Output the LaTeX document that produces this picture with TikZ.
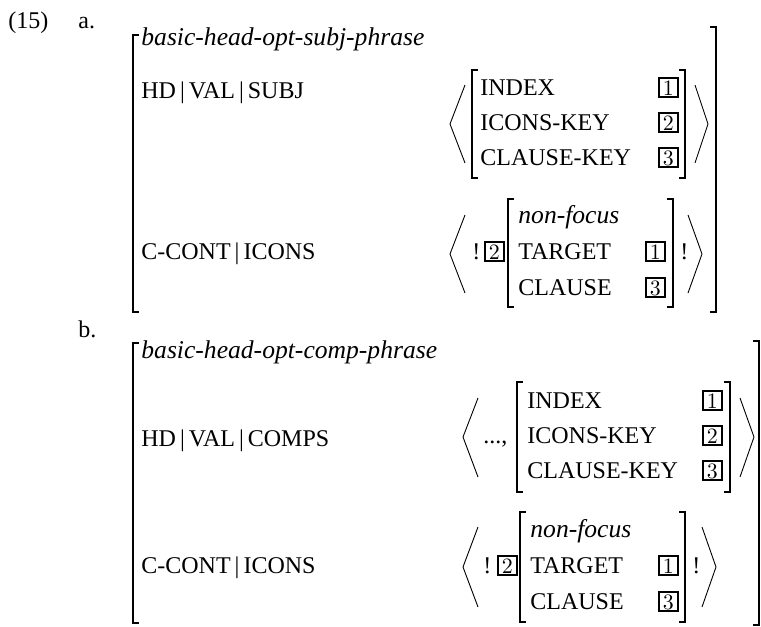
\documentclass[tikz,border=0pt]{standalone}
\usepackage[no-math]{fontspec}
\setmainfont{Liberation Serif}
\usepackage{tikz}

\begin{document}
\begin{tikzpicture}[x=0.5pt,y=-0.5pt,font=\fontsize{12}{14}\selectfont,
  txt/.style={anchor=base west,inner sep=0pt},
  typ/.style={txt,font=\fontsize{12.8}{14}\selectfont\itshape},
  tagbox/.style={draw,line width=1pt,inner sep=0pt,minimum width=9.3pt,minimum height=9.5pt,anchor=base west,font=\fontsize{10.5}{11}\selectfont},
  brk/.style={line width=0.7pt},
  ang/.style={line width=0.45pt}]
\useasboundingbox (0,0) rectangle (761,627);
\node[txt] (exnum) at (8,28) {(15)};
\node[txt] (lbla) at (78,28) {a.};
\draw[brk] (139,35) -- (133,35) -- (133,312) -- (139,312);
\draw[brk] (710,27) -- (716,27) -- (716,312) -- (710,312);
\node[typ] (a-type) at (141,45) {basic-head-opt-subj-phrase};
\node[txt] (a-path1) at (141,98) {HD\,|\,VAL\,|\,SUBJ};
\draw[ang] (465,85) -- (450,124) -- (465,163);
\draw[brk] (478,70) -- (472,70) -- (472,178) -- (478,178);
\node[txt] (a-idx) at (480,95) {INDEX};
\node[txt] (a-ikey) at (480,130) {ICONS-KEY};
\node[txt] (a-ckey) at (480,165) {CLAUSE-KEY};
\node[tagbox] (a-i1) at (658,95) {$1$};
\node[tagbox] (a-i2) at (658,130) {$2$};
\node[tagbox] (a-i3) at (658,165) {$3$};
\draw[brk] (679,70) -- (685,70) -- (685,178) -- (679,178);
\draw[ang] (695,85) -- (708,124) -- (695,163);
\node[txt] (a-path2) at (141,259) {C-CONT\,|\,ICONS};
\draw[ang] (465,215) -- (450,254) -- (465,293);
\node[txt] (a-bang1) at (472,259) {!};
\node[tagbox] (a-t2) at (484,259) {$2$};
\draw[brk] (514,199) -- (508,199) -- (508,307) -- (514,307);
\node[typ] (a-nf) at (518,223) {non-focus};
\node[txt] (a-tgt) at (518,259) {TARGET};
\node[txt] (a-cl) at (518,295) {CLAUSE};
\node[tagbox] (a-t1) at (645,259) {$1$};
\node[tagbox] (a-t3) at (645,295) {$3$};
\draw[brk] (667,199) -- (673,199) -- (673,307) -- (667,307);
\node[txt] (a-bang2) at (680,259) {!};
\draw[ang] (688,215) -- (702,254) -- (688,293);
\node[txt] (lblb) at (78,337) {b.};
\draw[brk] (139,343) -- (133,343) -- (133,623) -- (139,623);
\draw[brk] (753,341) -- (759,341) -- (759,625) -- (753,625);
\node[typ] (b-type) at (141,358) {basic-head-opt-comp-phrase};
\node[txt] (b-path1) at (141,446) {HD\,|\,VAL\,|\,COMPS};
\draw[ang] (478,398) -- (463,437) -- (478,477);
\node[txt] (b-dots) at (483,443) {...,};
\draw[brk] (523,382) -- (517,382) -- (517,492) -- (523,492);
\node[txt] (b-idx) at (527,408) {INDEX};
\node[txt] (b-ikey) at (527,443) {ICONS-KEY};
\node[txt] (b-ckey) at (527,478) {CLAUSE-KEY};
\node[tagbox] (b-i1) at (702,408) {$1$};
\node[tagbox] (b-i2) at (702,443) {$2$};
\node[tagbox] (b-i3) at (702,478) {$3$};
\draw[brk] (724,382) -- (730,382) -- (730,492) -- (724,492);
\draw[ang] (740,398) -- (754,437) -- (740,477);
\node[txt] (b-path2) at (141,573) {C-CONT\,|\,ICONS};
\draw[ang] (478,527) -- (463,567) -- (478,607);
\node[txt] (b-bang1) at (483,573) {!};
\node[tagbox] (b-t2) at (497,573) {$2$};
\draw[brk] (526,512) -- (520,512) -- (520,622) -- (526,622);
\node[typ] (b-nf) at (530,537) {non-focus};
\node[txt] (b-tgt) at (530,573) {TARGET};
\node[txt] (b-cl) at (530,609) {CLAUSE};
\node[tagbox] (b-t1) at (658,573) {$1$};
\node[tagbox] (b-t3) at (658,609) {$3$};
\draw[brk] (679,512) -- (685,512) -- (685,622) -- (679,622);
\node[txt] (b-bang2) at (692,573) {!};
\draw[ang] (702,527) -- (716,567) -- (702,607);
\end{tikzpicture}
\end{document}
